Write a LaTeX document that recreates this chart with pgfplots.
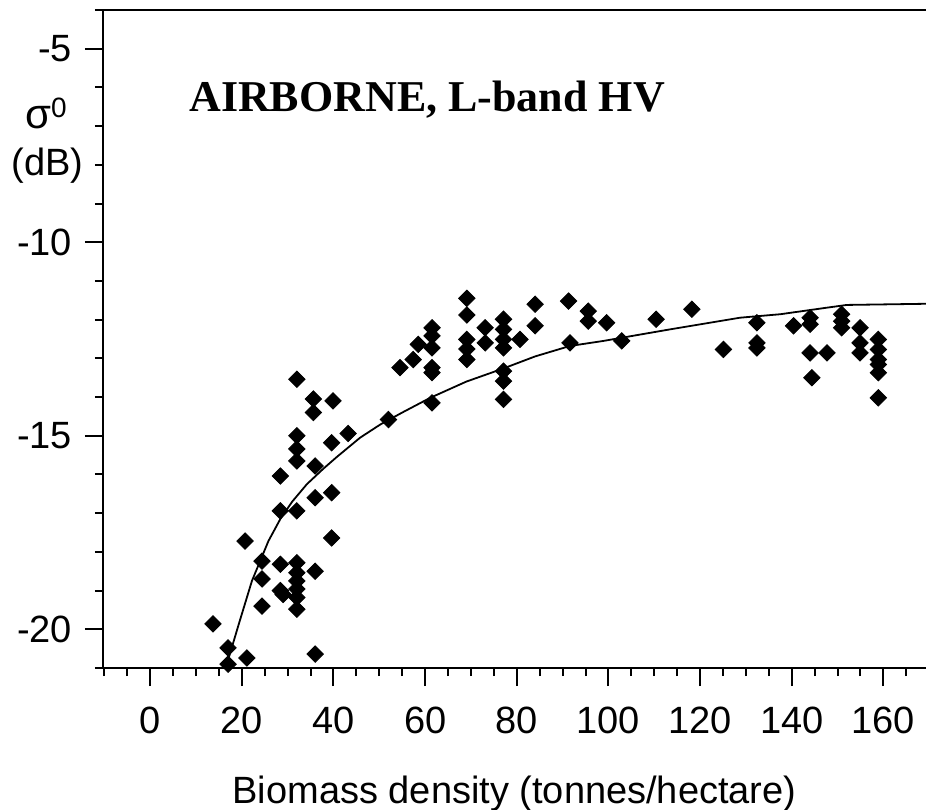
\documentclass[border=0pt]{standalone}
\usepackage{pgfplots}
\pgfplotsset{compat=1.18}
\usepackage{fontspec}
\setmainfont{Liberation Sans}
\newfontfamily\titlefont{Liberation Serif}
\begin{document}
\begin{tikzpicture}
\begin{axis}[
  name=ax,
  scale only axis,
  width=411.5pt, height=329pt,
  xmin=-10.3, xmax=169.3,
  ymin=-21, ymax=-4,
  axis x line*=bottom, axis y line*=left,
  axis line style={-, line width=1.2pt},
  tick align=outside,
  xtick={0,20,...,160},
  minor xtick={-10,-5,...,165},
  ytick={-20,-15,-10,-5},
  minor ytick={-21,-20,...,-4},
  major tick length=9pt,
  minor tick length=4pt,
  every tick/.style={black, line width=1pt},
  /pgf/number format/assume math mode=true,
  tick label style={font=\fontsize{19}{22}\selectfont},
  xticklabel style={yshift=-7pt},
  yticklabel style={xshift=-3pt},
  xlabel={Biomass density (tonnes/hectare)},
  xlabel style={font=\fontsize{19}{22}\selectfont, yshift=-14pt},
  clip=true,
]
\addplot[only marks, mark=square*, mark size=2.9pt, mark options={rotate=45}, black] coordinates {
(13.7,-19.86) (17.0,-20.48) (17.0,-20.9) (20.7,-17.72) (21.1,-20.74)
(24.4,-18.24) (24.4,-18.7) (24.4,-19.4)
(28.4,-16.04) (28.4,-16.94) (28.4,-18.32) (28.4,-19.0) (29.0,-19.1)
(32.0,-13.54) (32.0,-15.0) (32.0,-15.34) (32.0,-15.65) (32.0,-16.94)
(32.0,-18.28) (32.0,-18.54) (32.0,-18.75) (32.0,-18.96) (32.0,-19.18) (32.0,-19.48)
(35.6,-14.05) (35.6,-14.4) (36.0,-15.78) (36.0,-16.6) (36.0,-18.5) (36.0,-20.64)
(39.9,-14.1) (39.6,-15.18) (39.6,-16.47) (39.6,-17.64) (43.2,-14.94)
(52.0,-14.58) (54.5,-13.24) (57.4,-13.03) (58.5,-12.64)
(61.5,-12.21) (61.5,-12.42) (61.5,-12.73) (61.5,-13.24) (61.5,-13.37) (61.5,-14.15)
(69.1,-11.45) (69.1,-11.88) (69.1,-12.51) (69.1,-12.76) (69.1,-13.03)
(73.1,-12.21) (73.1,-12.6)
(77.1,-11.99) (77.1,-12.25) (77.1,-12.51) (77.1,-12.73) (77.1,-13.33) (77.1,-13.59) (77.1,-14.06)
(80.7,-12.51) (84.0,-11.6) (84.0,-12.16)
(91.3,-11.52) (91.6,-12.6) (95.6,-11.78) (95.6,-12.04) (99.6,-12.08) (102.9,-12.55)
(110.4,-11.99) (118.2,-11.73) (125.1,-12.77)
(132.4,-12.08) (132.4,-12.6) (132.4,-12.73)
(140.4,-12.16) (144.0,-11.95) (144.0,-12.12) (144.0,-12.86) (147.7,-12.86) (144.4,-13.5)
(150.9,-11.86) (150.9,-12.04) (150.9,-12.21)
(154.9,-12.21) (154.9,-12.6) (154.9,-12.86)
(158.9,-12.51) (158.9,-12.77) (158.9,-13.03) (158.9,-13.16) (158.9,-13.37) (158.9,-14.02)
};
\addplot[black, line width=0.9pt, no marks] coordinates {
(16.4,-21) (16.7,-20.91) (19.5,-19.8) (22.2,-18.75) (25.8,-17.72) (28.4,-17.15)
(31.0,-16.7) (34.2,-16.25) (37.8,-15.85) (40.7,-15.55) (45.8,-15.05) (50.2,-14.71)
(55.0,-14.4) (61.1,-14.02) (69.0,-13.6) (77.1,-13.26) (84.0,-12.95) (91.6,-12.68) (98.9,-12.55) (113.5,-12.25)
(128.7,-11.95) (137.5,-11.86) (147.1,-11.7) (152.0,-11.62) (169.3,-11.59)
};
\draw[line width=1.2pt] (rel axis cs:0,1) -- (rel axis cs:1,1);
\node[anchor=base west, font=\titlefont\bfseries\fontsize{22}{26}\selectfont] at (axis cs:7.0,-6.61) {AIRBORNE, L-band HV};
\end{axis}
\node[font=\fontsize{21}{24}\selectfont] at ([xshift=-28.5pt,yshift=-51.5pt]ax.north west) {σ\raisebox{0.5ex}{\fontsize{14}{16}\selectfont 0}};
\node[font=\fontsize{19}{22}\selectfont] at ([xshift=-27.75pt,yshift=-78pt]ax.north west) {(dB)};
\pgfresetboundingbox
\path ([xshift=-51.5pt,yshift=-70.5pt]ax.south west) rectangle ([yshift=5pt]ax.north east);
\end{tikzpicture}
\end{document}
